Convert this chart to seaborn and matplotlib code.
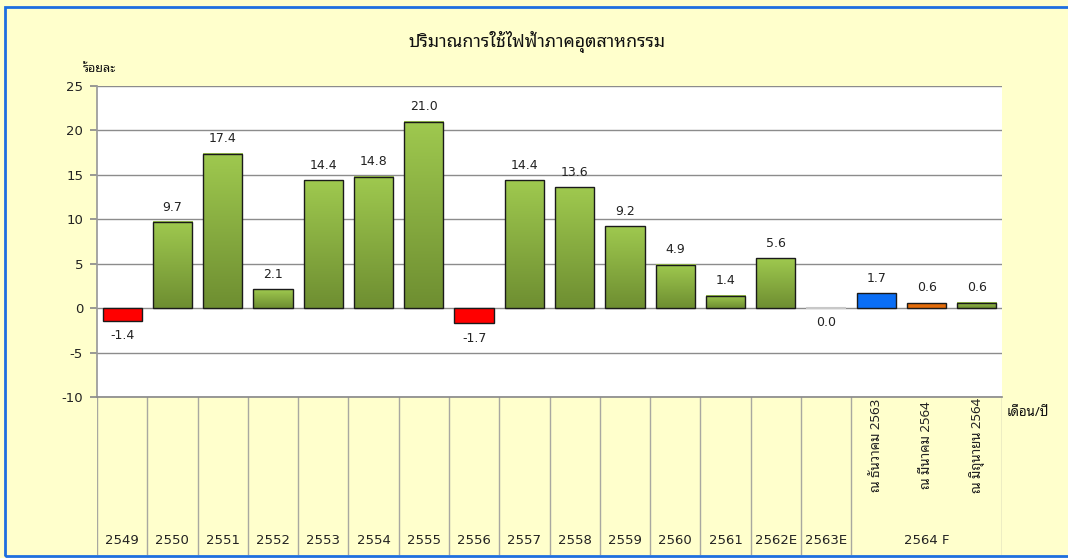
import numpy as np
import pandas as pd
import matplotlib
matplotlib.use("Agg")
import matplotlib.pyplot as plt
import seaborn as sns
from matplotlib import font_manager as fm
from matplotlib.ft2font import FT2Font
from matplotlib.colors import LinearSegmentedColormap
from matplotlib.patches import Rectangle

# ---------------- data ----------------
categories = ["2549", "2550", "2551", "2552", "2553", "2554", "2555", "2556",
              "2557", "2558", "2559", "2560", "2561", "2562E", "2563E",
              "ณ ธันวาคม 2563", "ณ มีนาคม 2564", "ณ มิถุนายน 2564"]
values = [-1.4, 9.7, 17.4, 2.1, 14.4, 14.8, 21.0, -1.7, 14.4, 13.6, 9.2,
          4.9, 1.4, 5.6, 0.0, 1.7, 0.6, 0.6]
bar_colors = ["#FF0000", "#8DB443", "#8DB443", "#8DB443", "#8DB443", "#8DB443",
              "#8DB443", "#FF0000", "#8DB443", "#8DB443", "#8DB443", "#8DB443",
              "#8DB443", "#8DB443", "#D9D9D9", "#0A6EF5", "#E36C0A", "#8DB443"]
gradient_bars = [1, 2, 3, 4, 5, 6, 8, 9, 10, 11, 12, 13, 17]
group_label = "2564 F"
group_members = [15, 16, 17]
yticks = [25, 20, 15, 10, 5, 0, -5, -10]
title = "ปริมาณการใช้ไฟฟ้าภาคอุตสาหกรรม"
ylabel = "ร้อยละ"
xlabel = "เดือน/ปี"

# ---------------- fonts ----------------
sns.set_theme(style="white")


def find_thai_font():
    found = {}
    for f in fm.fontManager.ttflist:
        try:
            cmap = FT2Font(f.fname).get_charmap()
        except Exception:
            continue
        if 0x0E1B in cmap and 0x0E34 in cmap and 0x0E01 in cmap:
            found[f.name] = True
    pref = ["Tahoma", "Noto Sans Thai Looped", "Loma", "Garuda",
            "Noto Sans Thai", "Noto Sans Thai UI", "Sarabun", "Noto Serif Thai"]
    for p in pref:
        if p in found:
            return p
    return next(iter(found), None)


thai = find_thai_font()
thai_family = [thai, "DejaVu Sans"] if thai else ["DejaVu Sans"]
plt.rcParams["font.family"] = ["DejaVu Sans"]

W, H = 1068, 558
fig = plt.figure(figsize=(W / 100, H / 100), dpi=100)
fig.patch.set_facecolor("#FFFFCC")

L, R, T, B = 97, 1002, 86, 397
BOT = 555
ax = fig.add_axes([L / W, 1 - B / H, (R - L) / W, (B - T) / H])
ax.set_facecolor("white")
ax.set_zorder(2)

df = pd.DataFrame({"cat": categories, "val": values})
sns.barplot(data=df, x="cat", y="val", hue="cat", palette=bar_colors,
            legend=False, ax=ax, width=0.78, edgecolor="#1a1a1a",
            linewidth=1.0, saturation=1, zorder=3)

# gradient fill for green bars
gcmap = LinearSegmentedColormap.from_list("g", ["#6E8E31", "#9FC94F"])
grad = np.linspace(0, 1, 256).reshape(-1, 1)
for i, p in enumerate(ax.patches):
    if i in gradient_bars:
        x0, y0 = p.get_x(), p.get_y()
        w, h = p.get_width(), p.get_height()
        ax.imshow(grad, extent=[x0, x0 + w, y0, y0 + h], origin="lower",
                  aspect="auto", cmap=gcmap, zorder=2.9, interpolation="bilinear")
        p.set_facecolor("none")
    if p.get_height() == 0:
        p.set_edgecolor("#C8C8C8")
        p.set_linewidth(1.5)

ax.set_xlim(-0.5, len(categories) - 0.5)
ax.set_ylim(-10, 25)
ax.set_yticks(yticks)
ax.set_yticklabels([str(t) for t in yticks], fontsize=9.5, color="#222222")
ax.set_xticks([])
ax.set_xlabel("")
ax.set_ylabel("")
ax.yaxis.grid(True, color="#8C8C8C", linewidth=1)
ax.set_axisbelow(True)
for s in ["top", "right"]:
    ax.spines[s].set_visible(False)
ax.spines["bottom"].set_color("#8C8C8C")
ax.spines["left"].set_color("#9A9A9A")
ax.tick_params(axis="y", left=True, length=5, color="#8C8C8C", pad=5)

for i, v in enumerate(values):
    if v > 0:
        ax.annotate(f"{v:.1f}", (i, v), xytext=(0, 6), textcoords="offset points",
                    ha="center", va="bottom", fontsize=9, color="#222222")
    else:
        ax.annotate(f"{v:.1f}", (i, v), xytext=(0, -6), textcoords="offset points",
                    ha="center", va="top", fontsize=9, color="#222222")

# ---------------- category table ----------------
tax = fig.add_axes([L / W, (H - BOT) / H, (R - L) / W, (BOT - B) / H])
tax.set_facecolor("#FFFFCC")
tax.set_zorder(1)
tax.set_xlim(-0.5, len(categories) - 0.5)
tax.set_ylim(0, 1)
tax.set_xticks([])
tax.set_yticks([])
for s in tax.spines.values():
    s.set_visible(False)
bounds = [i - 0.5 for i in range(len(categories) + 1)
          if not (group_members[0] < i <= group_members[-1])
          or i == len(categories)]
for bx in bounds:
    tax.axvline(bx, color="#A8A8A0", linewidth=1)


def ty(p):
    return (BOT - p) / (BOT - B)


for i, c in enumerate(categories):
    if i in group_members:
        tax.text(i, ty(445), c, rotation=90, ha="center",
                 va="center", fontsize=9.5, family=thai_family, color="#222222")
    else:
        tax.text(i, ty(541), c, ha="center", va="center", fontsize=9.5,
                 color="#222222")
gx = (group_members[0] + group_members[-1]) / 2
tax.text(gx, ty(541), group_label, ha="center", va="center", fontsize=9.5,
         color="#222222")

# ---------------- titles ----------------
fig.text(537 / W, 1 - 42 / H, title, ha="center", va="center", fontsize=12.8,
         family=thai_family, color="#111111")
fig.text(99 / W, 1 - 68 / H, ylabel, ha="center", va="center", fontsize=9,
         family=thai_family, color="#111111")
fig.text(1028 / W, 1 - 412 / H, xlabel, ha="center", va="center", fontsize=9.5,
         family=thai_family, color="#111111")

# outer blue frame
fig.add_artist(Rectangle((5 / W, 2.5 / H), 1.2, (551 - 2.5) / H, fill=False,
                         edgecolor="#1E6FE0", linewidth=2,
                         transform=fig.transFigure, clip_on=False))

fig.savefig("out.png", dpi=100, facecolor=fig.get_facecolor())
